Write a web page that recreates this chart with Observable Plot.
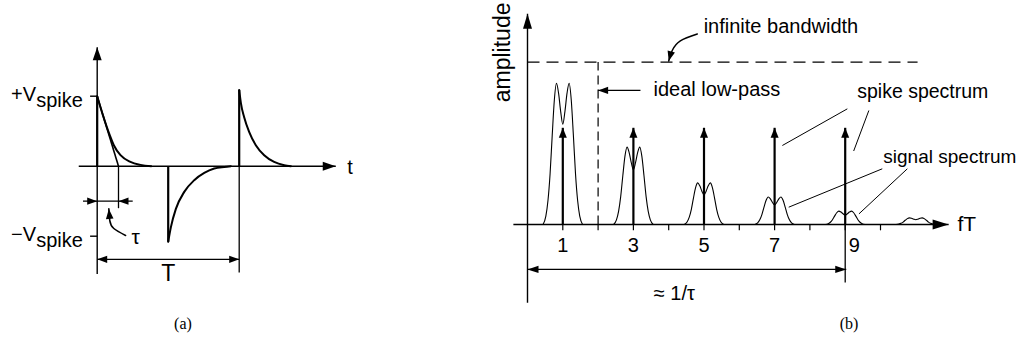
<!DOCTYPE html>
<html><head><meta charset="utf-8">
<script src="https://cdn.jsdelivr.net/npm/d3@7"></script>
<script src="https://cdn.jsdelivr.net/npm/@observablehq/plot@0.6"></script>
<style>
html,body{margin:0;padding:0;background:#fff;}
#wrap{position:relative;width:1021px;height:345px;overflow:hidden;font-family:"Liberation Sans",Arial,Helvetica,sans-serif;}
#wrap svg{position:absolute;top:0;}
.cap{position:absolute;top:315px;font-family:"Liberation Serif","Times New Roman",serif;font-size:16px;transform:translateX(-50%);color:#000;}
</style></head><body>
<div id="wrap"></div>
<script>
// ---------- Panel (a): time t in units of the period T, voltage v in units of Vspike ----------
const aCurve1T = [0, 0.04, 0.089, 0.117, 0.164, 0.234, 0.305, 0.38];
const aCurve1V = [1, 0.73, 0.44, 0.30, 0.157, 0.061, 0.019, 0];
const aCurve2T = [0.5, 0.519, 0.554, 0.613, 0.683, 0.754, 0.824, 0.894, 0.941];
const aCurve2V = [-1.08, -0.87, -0.61, -0.367, -0.2, -0.096, -0.033, -0.01, 0];
const aCurve3T = [1, 1.012, 1.035, 1.07, 1.117, 1.176, 1.246, 1.317, 1.364];
const aCurve3V = [1.09, 0.9, 0.70, 0.49, 0.3, 0.157, 0.061, 0.014, 0];
const aSpikeT = [0, 0.5, 1];
const aSpikeV = [1, -1.08, 1.09];
const aTau = 0.15;
const aPeriod = 1;
const aLevels = [1, -1];
const aLevelLabels = ["+V", "−V"];
const aTimeAxis = [-0.13, 1.68];
const aVoltAxis = [-1.54, 1.70];
const aTauPointerT = [0.2, 0.117, 0.089, 0.082];
const aTauPointerV = [-0.99, -0.89, -0.78, -0.61];

// ---------- Panel (b): frequency fT, amplitude in units of the spike lines ----------
const bHarmonics = [1, 3, 5, 7, 9, 11];
const bSignalPeaks = [1.46, 0.80, 0.43, 0.285, 0.138, 0.069];
const bLobeOffsets = [-0.56, -0.48, -0.42, -0.36, -0.3, -0.24, -0.18, -0.12, -0.06, 0, 0.06, 0.12, 0.18, 0.24, 0.3, 0.36, 0.42, 0.48, 0.56];
const bLobeShape = [0, 0.06, 0.17, 0.36, 0.63, 0.88, 1, 0.93, 0.8, 0.71, 0.8, 0.93, 1, 0.88, 0.63, 0.36, 0.17, 0.06, 0];
const bSpikeHarmonics = [1, 3, 5, 7, 9];
const bSpikeHeights = [1, 1, 1, 1, 1];
const bTicks = [1, 2, 3, 4, 5, 6, 7, 8, 9, 10];
const bTickLabelPos = [1, 3, 5, 7];
const bTickLabels = ["1", "3", "5", "7"];
const bLastTickPos = [9];
const bLastTickLabel = ["9"];
const bInfiniteLevel = 1.68;
const bCutoff = 2.0;
const bReciprocalTau = 9.03;
const bFreqAxis = [-0.4, 11.93];
const bAmpAxis = [-0.81, 2.18];

const fontFam = '"Liberation Sans", Arial, Helvetica, sans-serif';

// filled arrowhead symbol with its tip at the data point
function head(angle, len = 10, half = 3.5) {
  const a = angle * Math.PI / 180, c = Math.cos(a), s = Math.sin(a);
  return {draw(ctx) {
    const bx = -len * c, by = -len * s;
    ctx.moveTo(0, 0);
    ctx.lineTo(bx - half * s, by + half * c);
    ctx.lineTo(bx + half * s, by - half * c);
    ctx.closePath();
  }};
}
const headMark = (pts, angle, len, half) =>
  Plot.dot(pts, {x: d => d[0], y: d => d[1], symbol: head(angle, len, half), fill: "black", stroke: "none", r: 3});
const seg = (rows, opts = {}) =>
  Plot.link(rows, {x1: d => d[0], y1: d => d[1], x2: d => d[2], y2: d => d[3], stroke: "black", strokeWidth: 1.4, ...opts});

// ---------- build panel (a) ----------
const aCurves = [
  ...aCurve1T.map((t, i) => ({t, v: aCurve1V[i], id: 1})),
  ...aCurve2T.map((t, i) => ({t, v: aCurve2V[i], id: 2})),
  ...aCurve3T.map((t, i) => ({t, v: aCurve3V[i], id: 3}))
];
const aTauPointer = aTauPointerT.map((t, i) => ({t, v: aTauPointerV[i]}));
const aTauArrowV = -0.5, aTauDropV = -0.6, aPeriodArrowV = -1.33, aPeriodDropV = -1.52;

const plotA = Plot.plot({
  width: 500, height: 345,
  x: {domain: [0, aPeriod], range: [96.7, 238.7], axis: null},
  y: {domain: [0, 1], range: [165.7, 95.7], axis: null},
  style: {fontFamily: fontFam, overflow: "visible", background: "transparent"},
  marks: [
    seg([[aTimeAxis[0], 0, aTimeAxis[1], 0], [0, aVoltAxis[0], 0, aVoltAxis[1]]]),
    seg(aLevels.map(v => [-0.05, v, 0, v])),
    seg([[0, 1, aTau, 0]], {strokeWidth: 1.6}),
    seg([[aTau, 0, aTau, aTauDropV], [aPeriod, 0, aPeriod, aPeriodDropV]], {strokeWidth: 1.3}),
    seg([[-0.1, aTauArrowV, aTau + 0.1, aTauArrowV], [0, aPeriodArrowV, aPeriod, aPeriodArrowV]], {strokeWidth: 1.3}),
    seg(aSpikeT.map((t, i) => [t, 0, t, aSpikeV[i]]), {strokeWidth: 2.2}),
    Plot.line(aCurves, {x: "t", y: "v", z: "id", curve: "monotone-x", stroke: "black", strokeWidth: 2}),
    Plot.line(aTauPointer, {x: "t", y: "v", curve: "natural", stroke: "black", strokeWidth: 1.6}),
    headMark([[aTimeAxis[1], 0]], 0, 13, 4.5),
    headMark([[0, aVoltAxis[1]]], -90, 13, 4.5),
    headMark([[0, aTauArrowV], [aPeriod, aPeriodArrowV]], 0, 10, 3.6),
    headMark([[aTau, aTauArrowV], [0, aPeriodArrowV]], 180, 10, 3.6),
    headMark([[aTauPointerT[3], aTauPointerV[3]]], -95, 10, 3.8),
    Plot.text(aLevels, {x: -0.43, y: d => d, text: (d, i) => aLevelLabels[i], textAnchor: "end", fontSize: 20, dy: -2}),
    Plot.text(aLevels, {x: -0.43, y: d => d, text: () => "spike", textAnchor: "start", fontSize: 20, dy: 4}),
    Plot.text(["t"], {x: 1.78, y: 0, text: d => d, fontSize: 20, dy: 1}),
    Plot.text(["τ"], {x: 0.27, y: -1.02, text: d => d, fontSize: 21}),
    Plot.text(["T"], {x: 0.5, y: -1.53, text: d => d, fontSize: 23})
  ]
});

// ---------- build panel (b) ----------
const bHumps = bHarmonics.flatMap((h, i) =>
  bLobeOffsets.map((o, j) => ({f: h + o, a: bSignalPeaks[i] * bLobeShape[j], h})));
const bPointer = [[4.81, 1.97], [4.33, 1.90], [4.10, 1.80], [4.0, 1.69]];
const bRecipV = -0.465, bLowPassV = 1.386;

const plotB = Plot.plot({
  width: 521, height: 345,
  x: {domain: [0, 10], range: [27, 380], axis: null},
  y: {domain: [0, 1], range: [224, 127.3], axis: null},
  style: {fontFamily: fontFam, overflow: "visible", background: "transparent"},
  marks: [
    seg([[bFreqAxis[0], 0, bFreqAxis[1], 0], [0, bAmpAxis[0], 0, bAmpAxis[1]]]),
    seg(bTicks.map(k => [k, 0, k, -0.06]), {strokeWidth: 1.2}),
    seg([[9, 0, 9, -0.6]], {strokeWidth: 1.3}),
    seg([[0, bRecipV, bReciprocalTau, bRecipV]], {strokeWidth: 1.3}),
    seg([[0, bInfiniteLevel, 11.05, bInfiniteLevel]], {strokeWidth: 1.2, strokeDasharray: "12,7"}),
    seg([[bCutoff, 0, bCutoff, bInfiniteLevel]], {strokeWidth: 1.2, strokeDasharray: "9,5"}),
    seg([[3.2, bLowPassV, bCutoff, bLowPassV]], {strokeWidth: 1.3}),
    seg([[9.06, 1.196, 7.22, 0.817], [9.67, 1.179, 9.24, 0.76], [10.05, 0.576, 7.40, 0.179], [10.76, 0.576, 9.39, 0.11]], {strokeWidth: 1}),
    Plot.line(bHumps, {x: "f", y: "a", z: "h", curve: "monotone-x", stroke: "black", strokeWidth: 1.1}),
    seg(bSpikeHarmonics.map((h, i) => [h, 0, h, bSpikeHeights[i]]), {strokeWidth: 2.2}),
    Plot.line(bPointer, {x: d => d[0], y: d => d[1], curve: "natural", stroke: "black", strokeWidth: 1.5}),
    headMark(bSpikeHarmonics.map((h, i) => [h, bSpikeHeights[i]]), -90, 10, 4),
    headMark([[bFreqAxis[1], 0]], 0, 16, 5),
    headMark([[0, bAmpAxis[1]]], -90, 15, 4.5),
    headMark([[bReciprocalTau, bRecipV]], 0, 11, 3.6),
    headMark([[0, bRecipV]], 180, 11, 3.6),
    headMark([[bCutoff, bLowPassV]], 180, 10, 3.6),
    headMark([bPointer[3]], 105, 10, 3.8),
    Plot.text(bTickLabelPos, {x: d => d, y: -0.22, text: (d, i) => bTickLabels[i], fontSize: 20}),
    Plot.text(bLastTickPos, {x: d => d, y: -0.22, text: (d, i) => bLastTickLabel[i], fontSize: 20, dx: 9}),
    Plot.text(["amplitude"], {x: -0.71, y: 1.78, text: d => d, rotate: -90, fontSize: 23}),
    Plot.text(["fT"], {x: 12.18, y: 0, text: d => d, textAnchor: "start", fontSize: 21}),
    Plot.text(["infinite bandwidth"], {x: 4.99, y: 2.05, text: d => d, textAnchor: "start", fontSize: 20}),
    Plot.text(["ideal low-pass"], {x: 3.57, y: 1.40, text: d => d, textAnchor: "start", fontSize: 20}),
    Plot.text(["spike spectrum"], {x: 9.34, y: 1.375, text: d => d, textAnchor: "start", fontSize: 19.5}),
    Plot.text(["signal spectrum"], {x: 10.08, y: 0.70, text: d => d, textAnchor: "start", fontSize: 19}),
    Plot.text(["≈ 1/τ"], {x: 4.16, y: -0.71, text: d => d, fontSize: 20})
  ]
});

const wrap = document.getElementById("wrap");
plotA.style.left = "0px";
plotB.style.left = "500px";
wrap.appendChild(plotA);
wrap.appendChild(plotB);
for (const [t, x] of [["(a)", 183], ["(b)", 849]]) {
  const c = document.createElement("div");
  c.className = "cap"; c.textContent = t; c.style.left = x + "px";
  wrap.appendChild(c);
}
</script>
</body></html>
